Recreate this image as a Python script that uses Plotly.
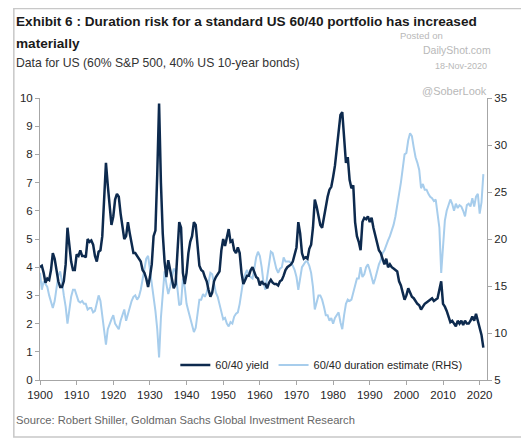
import plotly.graph_objects as go

# half-year sampling, 1900.0 .. 2021.0
years = [1900 + 0.5 * i for i in range(243)]

# 60/40 yield (%), left axis
yield_6040 = [
    4.0, 4.05, 3.8, 3.45, 3.6, 3.55, 3.9, 4.5, 4.3, 3.9, 3.5, 3.3, 3.3, 3.5, 4.1, 5.4, 4.8, 4.2, 3.9, 3.9,
    4.45, 4.4, 4.6, 4.4, 4.4, 4.35, 5.0, 4.9, 4.95, 4.8, 4.4, 4.2, 4.55, 4.6, 5.1, 6.6, 7.7, 6.9, 6.3, 5.5,
    5.8, 6.4, 6.6, 6.5, 5.9, 5.5, 5.0, 5.1, 5.6, 5.2, 4.9, 4.5, 4.5, 4.4, 4.3, 4.2, 3.9, 3.8, 3.6, 3.3,
    3.65, 4.1, 5.1, 5.3, 7.3, 9.8, 7.0, 5.2, 4.2, 3.65, 4.25, 3.9, 3.5, 3.25, 3.4, 4.6, 5.6, 5.4, 3.8, 3.4,
    3.8, 4.5, 4.9, 5.1, 5.6, 5.5, 4.6, 4.05, 3.9, 3.85, 3.65, 3.5, 3.2, 2.95, 3.1, 3.5, 3.65, 3.75, 3.85, 4.6,
    5.0, 4.75, 5.1, 5.35, 4.9, 4.95, 4.6, 4.5, 4.7, 4.5, 3.8, 3.4, 3.55, 3.7, 3.7, 3.9, 4.0, 3.8, 3.65, 3.6,
    3.35, 3.5, 3.4, 3.4, 3.25, 3.45, 3.55, 3.45, 3.4, 3.4, 3.35, 3.5, 3.55, 3.7, 3.9, 4.0, 4.05, 4.1, 4.2, 4.5,
    4.7, 5.6, 5.2, 4.5, 4.3, 4.35, 4.3, 4.65, 4.8, 5.4, 6.4, 6.15, 5.85, 5.5, 5.4, 5.8, 6.2, 6.5, 6.75, 6.85,
    7.2, 7.6, 8.2, 8.9, 9.4, 9.5, 8.6, 7.7, 7.9, 7.1, 6.8, 6.9, 5.6, 5.1, 4.9, 4.6, 5.6, 5.75, 5.7, 5.8,
    5.6, 5.75, 5.4, 5.1, 4.85, 4.6, 4.5, 4.3, 4.1, 4.3, 4.0, 4.1, 4.0, 3.95, 3.9, 3.85, 3.5, 3.35, 3.1, 2.85,
    3.0, 3.25, 3.1, 2.95, 2.9, 2.8, 2.7, 2.65, 2.5, 2.6, 2.7, 2.75, 2.8, 2.85, 2.9, 2.8, 2.85, 2.9, 3.2, 3.5,
    2.7, 2.6, 2.45, 2.2, 2.05, 2.1, 2.0, 1.9, 2.1, 2.0, 2.1, 1.95, 2.1, 2.0, 2.0, 2.1, 2.25, 2.1, 2.35, 2.1,
    1.9, 1.6, 1.15,
]

# 60/40 duration estimate (years), right axis
duration_6040 = [
    16.4, 14.6, 15.5, 15.2, 14.9, 14.0, 13.4, 12.65, 13.4, 14.9, 16.1, 16.55, 15.5, 14.0, 12.8, 11.0, 12.65, 13.85, 14.6, 14.6,
    14.0, 13.4, 13.25, 13.4, 13.1, 13.1, 12.5, 12.65, 12.65, 12.2, 12.35, 13.1, 14.0, 13.4, 11.6, 9.95, 8.75, 10.4, 11.0, 11.45,
    11.9, 11.0, 10.7, 10.4, 11.3, 12.05, 12.5, 11.3, 12.05, 12.8, 13.4, 13.85, 14.0, 13.55, 13.85, 14.6, 15.8, 17.0, 17.9, 18.2,
    16.85, 15.35, 13.85, 12.35, 10.4, 7.4, 11.6, 14.6, 16.55, 15.2, 14.15, 14.9, 16.1, 16.85, 16.55, 14.6, 12.95, 13.1, 15.8, 14.9,
    13.1, 12.35, 11.6, 10.85, 10.1, 10.55, 12.2, 13.55, 13.55, 14.15, 13.85, 14.3, 15.35, 16.4, 16.25, 15.05, 14.3, 13.85, 13.1, 12.2,
    11.45, 11.6, 11.0, 10.7, 11.15, 11.0, 11.75, 12.05, 12.2, 13.1, 14.6, 15.65, 16.25, 16.7, 16.1, 15.95, 15.8, 16.85, 18.05, 18.65,
    18.2, 17.0, 15.35, 14.6, 15.95, 17.6, 18.65, 18.5, 17.6, 16.85, 16.4, 16.85, 17.0, 18.05, 17.6, 17.6, 17.6, 17.45, 17.15, 16.7,
    15.95, 14.6, 15.95, 17.0, 17.3, 17.6, 17.6, 17.15, 16.4, 14.9, 12.5, 13.25, 14.0, 14.0, 13.55, 12.8, 11.9, 11.9, 11.3, 11.6,
    11.0, 11.6, 11.9, 12.2, 11.15, 10.4, 11.9, 13.1, 13.55, 13.4, 13.55, 14.3, 15.2, 15.8, 15.8, 17.0, 15.95, 16.25, 17.0, 17.3,
    16.7, 15.8, 15.2, 15.8, 16.7, 17.3, 17.75, 18.5, 18.8, 19.4, 19.85, 20.3, 20.9, 21.5, 22.4, 23.45, 24.8, 26.0, 27.5, 29.0,
    29.15, 30.5, 31.25, 30.95, 29.75, 28.7, 28.1, 27.35, 25.4, 25.85, 25.25, 25.25, 24.8, 24.5, 24.35, 24.05, 24.2, 22.7, 21.2, 16.4,
    19.7, 21.95, 23.0, 23.75, 24.2, 23.75, 23.0, 23.75, 23.3, 23.6, 23.45, 23.0, 22.4, 23.6, 23.75, 23.45, 24.35, 23.45, 24.5, 24.8,
    22.7, 23.9, 26.9,
]

x_ticks = list(range(1900, 2021, 10))

DARK = "#0d2a4e"
LIGHT = "#a7cdec"
AXIS = "#a6a6a6"
SANS = "Liberation Sans, Arial, sans-serif"

# page is drawn with an 8px body margin, so the figure is shifted by OFF
OFF = 8
PAGE_W, PAGE_H = 529, 439
# plot area in page pixels
L, R, T, B = 35, 487.5, 98, 380


def px(x):
    return (x - L) / (R - L)


def py(y):
    return (B - y) / (B - T)


fig = go.Figure()
fig.add_trace(go.Scatter(
    x=years, y=yield_6040, name="60/40 yield", yaxis="y2",
    mode="lines", line=dict(color=DARK, width=2.5),
))
fig.add_trace(go.Scatter(
    x=years, y=duration_6040, name="60/40 duration estimate (RHS)", yaxis="y",
    mode="lines", line=dict(color=LIGHT, width=2),
))

axis_common = dict(
    showline=True, linecolor=AXIS, linewidth=1, ticks="outside", ticklen=4,
    tickcolor=AXIS, showgrid=False, zeroline=False,
    tickfont=dict(family=SANS, size=11.5, color="#262626"),
)

fig.update_layout(
    width=PAGE_W - OFF, height=PAGE_H - OFF,
    margin=dict(l=L - OFF, r=PAGE_W - R, t=T - OFF, b=PAGE_H - B),
    paper_bgcolor="white", plot_bgcolor="white",
    showlegend=True,
    legend=dict(
        orientation="h", x=px(172), y=py(365), xanchor="left", yanchor="middle",
        bgcolor="rgba(0,0,0,0)", font=dict(family=SANS, size=11, color="#262626"),
        itemwidth=30, tracegroupgap=0,
    ),
    xaxis=dict(axis_common, range=[1900, 2022], tickvals=x_ticks),
    yaxis=dict(axis_common, side="right", range=[5, 35], dtick=5),
    yaxis2=dict(axis_common, side="left", overlaying="y", range=[0, 10], dtick=1),
)

texts = [
    ("<b>Exhibit 6 : Duration risk for a standard US 60/40 portfolio has increased</b>",
     9, 21.5, 13.6, "#1a1a1a"),
    ("<b>materially</b>", 9, 43.5, 13.6, "#1a1a1a"),
    ("Data for US (60% S&P 500, 40% US 10-year bonds)", 9, 63, 12.2, "#333333"),
    ("Posted on", 397, 35, 9.5, "#b8b8b8"),
    ("DailyShot.com", 421, 50.5, 10.5, "#b8b8b8"),
    ("18-Nov-2020", 433, 65.5, 9, "#b8b8b8"),
    ("@SoberLook", 420, 91, 11, "#b8b8b8"),
    ("Source: Robert Shiller, Goldman Sachs Global Investment Research",
     9, 420, 11.2, "#666666"),
]
for text, x, y, size, col in texts:
    fig.add_annotation(
        text=text, xref="paper", yref="paper", x=px(x), y=py(y),
        xanchor="left", yanchor="middle", showarrow=False,
        font=dict(family=SANS, size=size, color=col),
    )

# outer frame
fig.add_shape(
    type="rect", xref="paper", yref="paper",
    x0=px(OFF + 0.5), x1=px(527), y0=py(437), y1=py(OFF + 0.5),
    line=dict(color="#c8c8c8", width=1.5), layer="below",
)

fig.write_html("out.html")
